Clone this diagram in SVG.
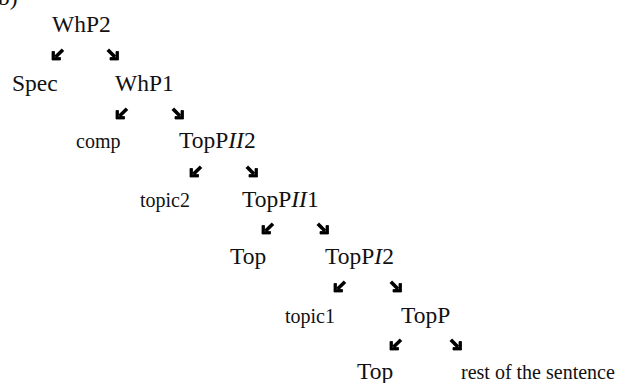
<svg xmlns="http://www.w3.org/2000/svg" xmlns:xlink="http://www.w3.org/1999/xlink" width="620" height="383" viewBox="0 0 620 383">
  <style>
    text { font-family: "Liberation Serif", "Times New Roman", serif; fill: #111; }
    .big { font-size: 23.5px; }
    .small { font-size: 20px; }
    .it { font-style: italic; }
    .arrow line { stroke: #000; stroke-width: 3.6; }
    .arrow path { fill: #000; stroke: #000; stroke-width: 0.8; stroke-linejoin: miter; }
  </style>
  <defs>
    <g id="se" class="arrow">
      <line x1="0.8" y1="0.8" x2="8" y2="8"/>
      <path d="M11.5,11 L11.5,2.5 L9,2.5 L9,8.5 L3,8.5 L3,11 Z"/>
    </g>
    <g id="sw" class="arrow">
      <line x1="11" y1="0.8" x2="3.5" y2="8"/>
      <path d="M0,11 L0,2.5 L2.5,2.5 L2.5,8.5 L8.5,8.5 L8.5,11 Z"/>
    </g>
  </defs>
  <rect width="620" height="383" fill="#fff"/>

  <g id="label-b"><text class="big" x="-2" y="5">b)</text></g>

  <g id="WhP2"><text class="big" x="52" y="32">WhP2</text></g>
  <g id="Spec"><text class="big" x="12" y="90.5">Spec</text></g>
  <g id="WhP1"><text class="big" x="115" y="90.5">WhP1</text></g>
  <g id="comp"><text class="small" x="76" y="148">comp</text></g>
  <g id="TopPII2"><text class="big" x="179" y="148">TopP<tspan class="it">II</tspan>2</text></g>
  <g id="topic2"><text class="small" x="140" y="206.5">topic2</text></g>
  <g id="TopPII1"><text class="big" x="242" y="206.5">TopP<tspan class="it">II</tspan>1</text></g>
  <g id="Top1"><text class="big" x="230" y="264">Top</text></g>
  <g id="TopPI2"><text class="big" x="325" y="264">TopP<tspan class="it">I</tspan>2</text></g>
  <g id="topic1"><text class="small" x="285" y="322.5">topic1</text></g>
  <g id="TopP"><text class="big" x="401" y="322.5">TopP</text></g>
  <g id="Top2"><text class="big" x="357" y="379">Top</text></g>
  <g id="rest"><text class="small" x="461" y="379">rest of the sentence</text></g>

  <g id="connectors">
    <use xlink:href="#sw" x="52" y="49"/>
    <use xlink:href="#se" x="107" y="49"/>
    <use xlink:href="#sw" x="116" y="108"/>
    <use xlink:href="#se" x="172" y="108"/>
    <use xlink:href="#sw" x="190" y="166"/>
    <use xlink:href="#se" x="246" y="166"/>
    <use xlink:href="#sw" x="262" y="223"/>
    <use xlink:href="#se" x="317" y="223"/>
    <use xlink:href="#sw" x="334" y="281"/>
    <use xlink:href="#se" x="390" y="281"/>
    <use xlink:href="#sw" x="390" y="339"/>
    <use xlink:href="#se" x="450" y="339"/>
  </g>
</svg>
